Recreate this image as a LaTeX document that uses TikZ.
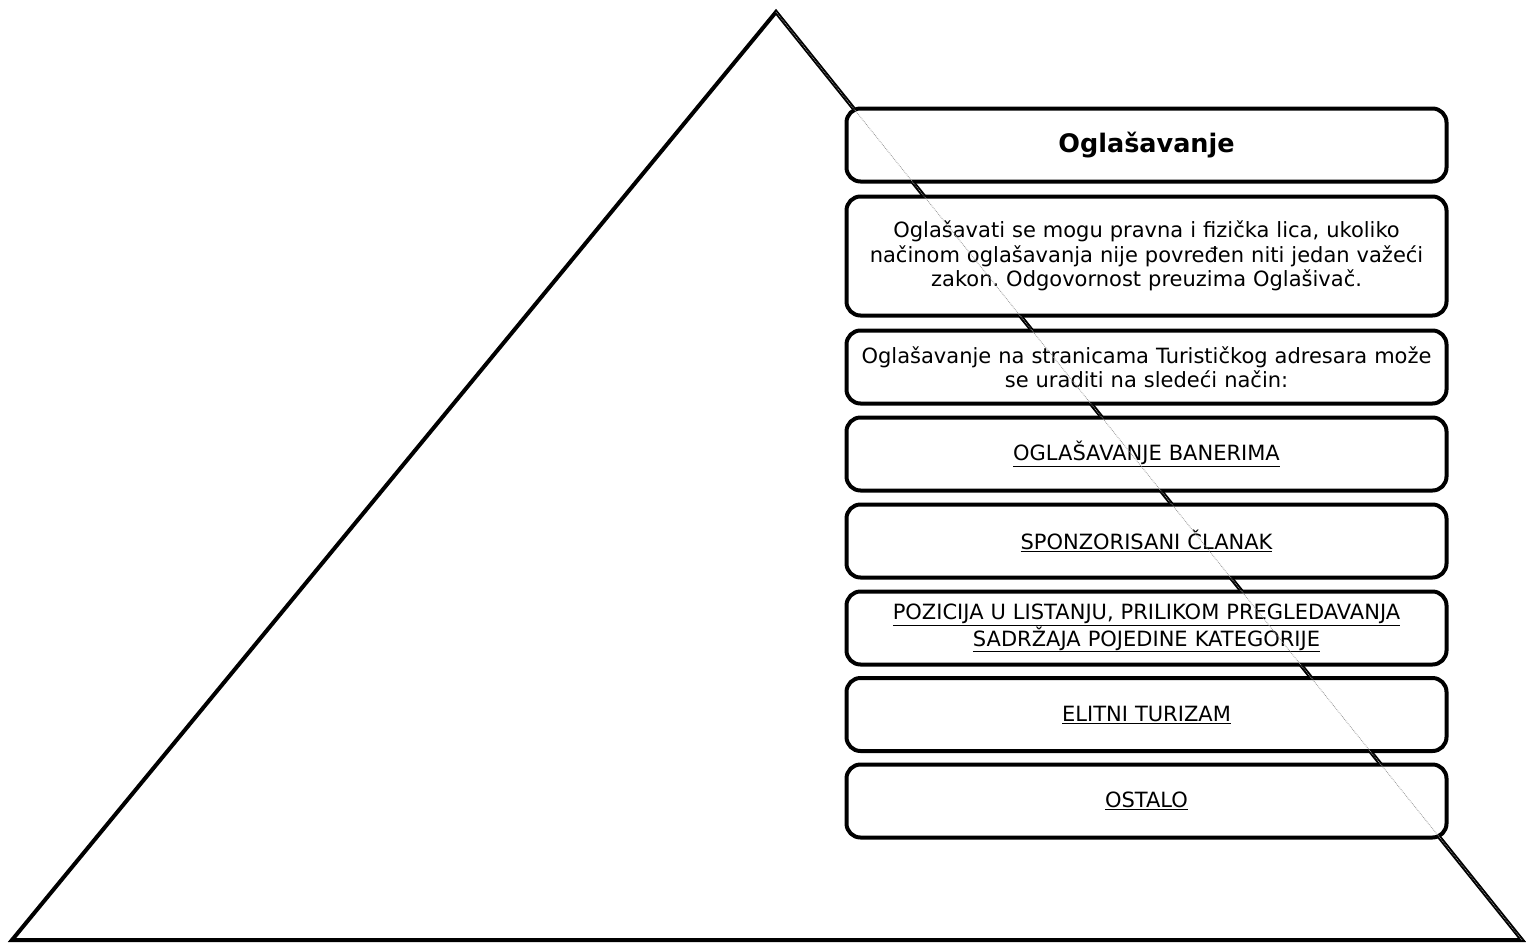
\documentclass[tikz,border=0pt]{standalone}
\usepackage{fontspec}
\setmainfont{DejaVu Sans}
\frenchspacing
\begin{document}
\begin{tikzpicture}[x=1pt,y=-1pt,
  box/.style={draw=black, line width=4pt, rounded corners=14pt, fill=white,
    minimum width=600pt, text width=596pt, align=center, inner sep=0pt,
    font=\fontsize{21}{24.5}\selectfont},
  tri/.style={draw=black, line width=4pt, line join=miter},
  faint/.style={draw=black!40, line width=0.8pt, densely dotted}]
\useasboundingbox (0,0) rectangle (1526,943);
\coordinate (apex) at (776,12);
\coordinate (bl) at (12,940);
\coordinate (br) at (1522,940);
\draw[tri] (apex) -- (bl) -- (br) -- cycle;
\node[box, minimum height=73pt, font=\fontsize{25.5}{30}\selectfont\bfseries] (b1) at (1146.5,145) {Oglašavanje};
\node[box, minimum height=119pt] (b2) at (1146.5,256) {Oglašavati se mogu pravna i fizička lica, ukoliko\\ načinom oglašavanja nije povređen niti jedan važeći\\ zakon. Odgovornost preuzima Oglašivač.};
\node[box, minimum height=73pt] (b3) at (1146.5,367) {Oglašavanje na stranicama Turističkog adresara može\\ se uraditi na sledeći način:};
\node[box, minimum height=73pt] (b4) at (1146.5,454) {\underline{OGLAŠAVANJE BANERIMA}};
\node[box, minimum height=73pt] (b5) at (1146.5,541) {\underline{SPONZORISANI ČLANAK}};
\node[box, minimum height=73pt] (b6) at (1146.5,628) {\underline{POZICIJA U LISTANJU, PRILIKOM PREGLEDAVANJA}\\ \underline{SADRŽAJA POJEDINE KATEGORIJE}};
\node[box, minimum height=73pt] (b7) at (1146.5,714.5) {\underline{ELITNI TURIZAM}};
\node[box, minimum height=73pt] (b8) at (1146.5,801) {\underline{OSTALO}};
\draw[faint] (apex) -- (br);
\end{tikzpicture}
\end{document}
